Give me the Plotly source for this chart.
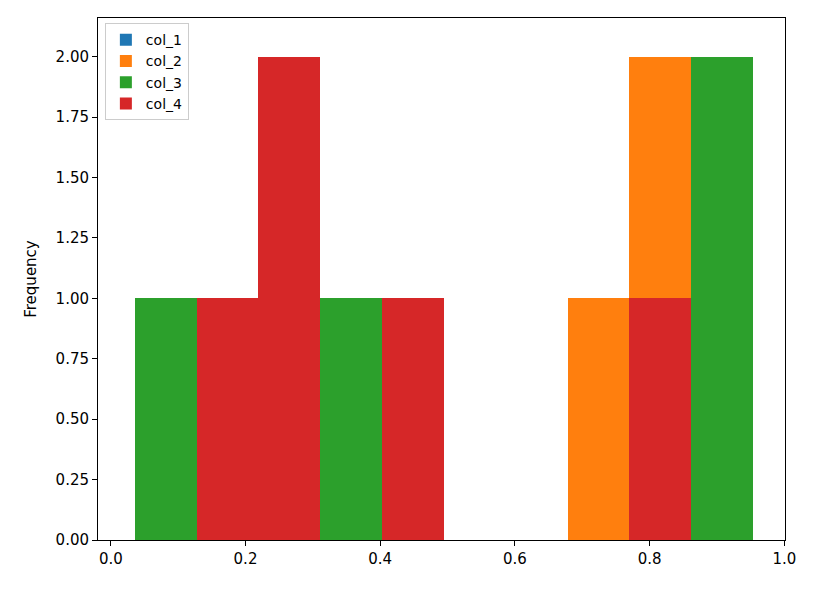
import plotly.graph_objects as go

# histogram bins (shared edges) and counts
bin_start = 0.0356
bin_width = 0.0918
series = ["col_1", "col_2", "col_3", "col_4"]
counts = {
    "col_1": [0, 0, 1, 0, 0, 0, 0, 0, 1, 0],
    "col_2": [0, 0, 0, 0, 0, 0, 0, 1, 2, 0],
    "col_3": [1, 0, 0, 1, 0, 0, 0, 0, 0, 2],
    "col_4": [0, 1, 2, 0, 1, 0, 0, 0, 1, 0],
}
colors = {"col_1": "#1f77b4", "col_2": "#ff7f0e", "col_3": "#2ca02c", "col_4": "#d62728"}

centers = [bin_start + bin_width * (i + 0.5) for i in range(10)]

fig = go.Figure()
for name in series:
    fig.add_trace(go.Bar(
        x=centers, y=counts[name], width=bin_width, name=name,
        marker=dict(color=colors[name], line_width=0),
    ))

axis = dict(showline=True, linecolor="black", linewidth=1, mirror=True,
            ticks="outside", ticklen=5, tickcolor="black", showgrid=False,
            zeroline=False, tickfont=dict(size=15, color="black"))

fig.update_layout(
    width=829, height=591, barmode="overlay", bargap=0,
    plot_bgcolor="white", paper_bgcolor="white",
    font=dict(family="DejaVu Sans", color="black"),
    margin=dict(l=90, r=52, t=10, b=59),
    xaxis=dict(axis, range=[-0.019, 1.001], tickvals=[0, 0.2, 0.4, 0.6, 0.8, 1.0], tickformat=".1f"),
    yaxis=dict(axis, range=[0, 2.16], dtick=0.25, tickformat=".2f",
               title=dict(text="Frequency", font=dict(size=15))),
    legend=dict(x=0.01, y=0.99, xanchor="left", yanchor="top",
                bordercolor="#cccccc", borderwidth=1, bgcolor="rgba(255,255,255,0.8)",
                font=dict(size=14)),
)

fig.write_html("out.html")
